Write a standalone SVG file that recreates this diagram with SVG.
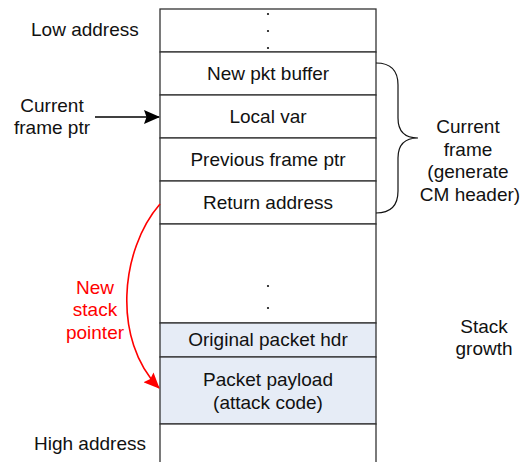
<svg xmlns="http://www.w3.org/2000/svg" width="526" height="462" viewBox="0 0 526 462">
  <style>
    .cell { fill: #ffffff; stroke: #333333; stroke-width: 1.3; }
    .pkt { fill: #e6ecf6; stroke: #333333; stroke-width: 1.3; }
    .lbl { font-family: "Liberation Sans", Arial, sans-serif; font-size: 19px; fill: #111111; }
    .mid { text-anchor: middle; }
    .red { fill: #ff0000; }
    .dot { fill: #111111; }
  </style>
  <defs>
    <marker id="arrowBlack" viewBox="0 0 16 14" refX="15" refY="7" markerWidth="16" markerHeight="14" markerUnits="userSpaceOnUse" orient="auto">
      <path d="M0,0 L16,7 L0,14 L2.5,7 Z" fill="#000000"/>
    </marker>
    <marker id="arrowRed" viewBox="0 0 16 14" refX="15" refY="7" markerWidth="16" markerHeight="14" markerUnits="userSpaceOnUse" orient="auto">
      <path d="M0,0 L16,7 L0,14 L2.5,7 Z" fill="#ff0000"/>
    </marker>
  </defs>

  <rect width="526" height="462" fill="#ffffff"/>

  <!-- stack cells -->
  <g id="cell-top">
    <rect class="cell" x="160" y="9" width="216" height="43"/>
    <circle class="dot" cx="268" cy="14" r="1.1"/>
    <circle class="dot" cx="268" cy="31" r="1.1"/>
    <circle class="dot" cx="268" cy="48" r="1.1"/>
  </g>
  <g id="cell-new-pkt-buffer">
    <rect class="cell" x="160" y="52" width="216" height="43"/>
    <text class="lbl mid" x="268" y="80">New pkt buffer</text>
  </g>
  <g id="cell-local-var">
    <rect class="cell" x="160" y="95" width="216" height="43"/>
    <text class="lbl mid" x="268" y="123">Local var</text>
  </g>
  <g id="cell-prev-frame-ptr">
    <rect class="cell" x="160" y="138" width="216" height="43"/>
    <text class="lbl mid" x="268" y="166">Previous frame ptr</text>
  </g>
  <g id="cell-return-address">
    <rect class="cell" x="160" y="181" width="216" height="43"/>
    <text class="lbl mid" x="268" y="209">Return address</text>
  </g>
  <g id="cell-gap">
    <rect class="cell" x="160" y="224" width="216" height="99"/>
    <circle class="dot" cx="268" cy="286" r="1.1"/>
    <circle class="dot" cx="268" cy="308" r="1.1"/>
  </g>
  <g id="cell-orig-pkt-hdr">
    <rect class="pkt" x="160" y="323" width="216" height="34"/>
    <text class="lbl mid" x="268" y="346">Original packet hdr</text>
  </g>
  <g id="cell-payload">
    <rect class="pkt" x="160" y="357" width="216" height="67"/>
    <text class="lbl mid" x="268" y="386">Packet payload</text>
    <text class="lbl mid" x="268" y="409">(attack code)</text>
  </g>
  <g id="cell-bottom">
    <rect class="cell" x="160" y="424" width="216" height="50"/>
  </g>

  <!-- side labels -->
  <g id="low-address">
    <text class="lbl" x="31" y="36">Low address</text>
  </g>
  <g id="high-address">
    <text class="lbl" x="34" y="450">High address</text>
  </g>
  <g id="current-frame-ptr">
    <text class="lbl mid" x="52" y="112">Current</text>
    <text class="lbl mid" x="52" y="134">frame ptr</text>
  </g>
  <g id="current-frame">
    <text class="lbl mid" x="468" y="133">Current</text>
    <text class="lbl mid" x="468" y="156">frame</text>
    <text class="lbl mid" x="468" y="178">(generate</text>
    <text class="lbl mid" x="470" y="201">CM header)</text>
  </g>
  <g id="stack-growth">
    <text class="lbl mid" x="484" y="333">Stack</text>
    <text class="lbl mid" x="484" y="355">growth</text>
  </g>
  <g id="new-stack-pointer">
    <text class="lbl mid red" x="95" y="294">New</text>
    <text class="lbl mid red" x="95" y="316">stack</text>
    <text class="lbl mid red" x="95" y="339">pointer</text>
  </g>

  <!-- connectors -->
  <g id="connectors" fill="none">
    <path d="M95,117 L159,117" stroke="#000000" stroke-width="1.6" marker-end="url(#arrowBlack)"/>
    <path d="M160,204 C120,250 112,340 159,388" stroke="#ff0000" stroke-width="1.6" marker-end="url(#arrowRed)"/>
    <path d="M376,63 Q398,63 398,85 L398,118 Q398,138 418,138 Q398,138 398,158 L398,191 Q398,213 376,213" stroke="#111111" stroke-width="1.2"/>
  </g>
</svg>
